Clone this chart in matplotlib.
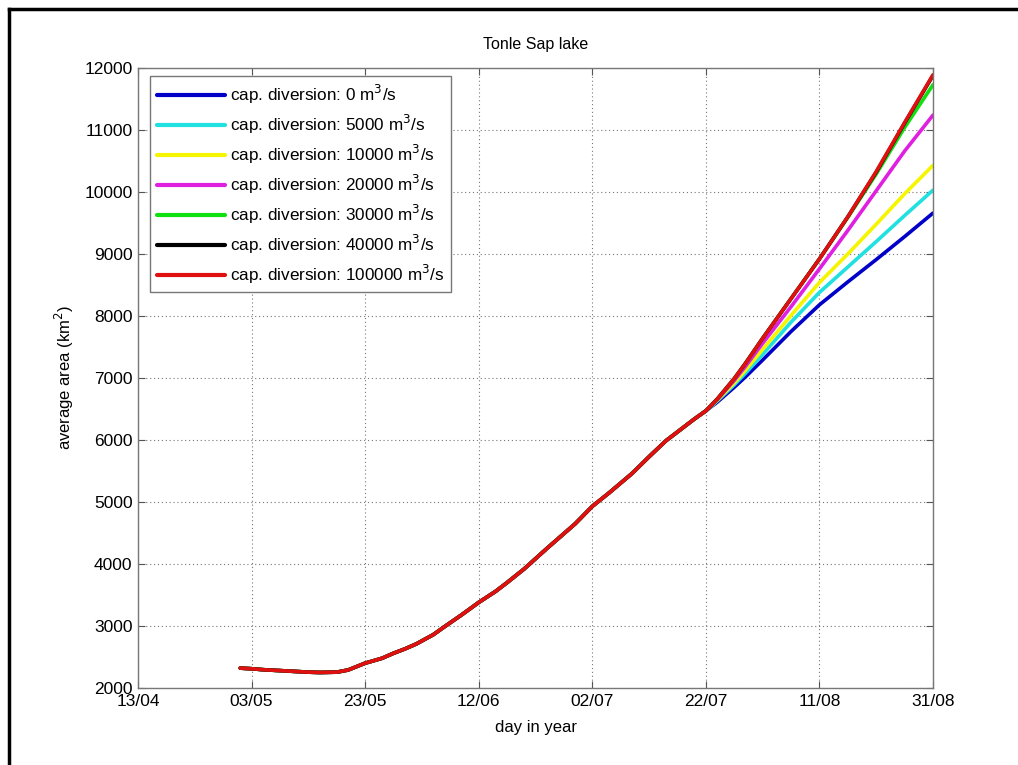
import matplotlib
matplotlib.use("Agg")
import matplotlib.pyplot as plt
from matplotlib.lines import Line2D

# Day-of-year for x ticks (13/04 .. 31/08, every 20 days)
tick_days = [103, 123, 143, 163, 183, 203, 223, 243]
tick_labels = ["13/04", "03/05", "23/05", "12/06", "02/07", "22/07", "11/08", "31/08"]

# Common part (all scenarios identical)
common_days = [121, 123, 125, 128, 130, 133, 135, 138, 140, 143, 146, 148, 150, 152, 155,
               157, 160, 163, 166, 168, 171, 175, 178, 180, 183, 186, 190, 193, 196, 199, 201, 203]
common_vals = [2320, 2310, 2295, 2280, 2270, 2255, 2250, 2255, 2290, 2400, 2480, 2560, 2630, 2710, 2860,
               2990, 3180, 3380, 3560, 3700, 3920, 4250, 4490, 4650, 4930, 5150, 5460, 5730, 5990, 6200, 6340, 6470]

# Diverging part
div_days = [203, 205, 208, 210, 213, 218, 223, 228, 233, 238, 243]
area_0 = [6470, 6610, 6850, 7020, 7290, 7750, 8180, 8550, 8910, 9280, 9660]
area_5000 = [6470, 6630, 6890, 7080, 7380, 7900, 8380, 8790, 9200, 9620, 10030]
area_10000 = [6470, 6640, 6920, 7130, 7460, 8010, 8540, 9000, 9480, 9970, 10430]
area_20000 = [6470, 6650, 6960, 7190, 7560, 8150, 8760, 9380, 10020, 10660, 11240]
area_30000 = [6470, 6660, 6990, 7240, 7640, 8280, 8920, 9590, 10290, 11040, 11730]
area_40000 = [6470, 6660, 6990, 7240, 7640, 8280, 8920, 9600, 10320, 11110, 11880]
area_100000 = [6470, 6660, 6990, 7240, 7640, 8280, 8920, 9600, 10330, 11120, 11890]

series_labels = ["cap. diversion: 0 m$^3$/s", "cap. diversion: 5000 m$^3$/s",
                 "cap. diversion: 10000 m$^3$/s", "cap. diversion: 20000 m$^3$/s",
                 "cap. diversion: 30000 m$^3$/s", "cap. diversion: 40000 m$^3$/s",
                 "cap. diversion: 100000 m$^3$/s"]
series_vals = [area_0, area_5000, area_10000, area_20000, area_30000, area_40000, area_100000]
colors = ["#0000c8", "#20e0e0", "#f5f500", "#e020e0", "#10e010", "#000000", "#e01010"]

plt.rcParams['font.family'] = ['Liberation Sans', 'DejaVu Sans']

fig = plt.figure(figsize=(10.18, 7.65), dpi=100)
ax = fig.add_axes([0.1356, 0.1007, 0.7809, 0.8104])

for lab, vals, c in zip(series_labels, series_vals, colors):
    days = common_days + div_days[1:]
    y = common_vals + vals[1:]
    ax.plot(days, y, color=c, lw=2.6, label=lab, solid_capstyle='round',
            solid_joinstyle='round')

ax.set_xlim(103, 243)
ax.set_ylim(2000, 12000)
ax.set_xticks(tick_days)
ax.set_xticklabels(tick_labels)
ax.set_yticks(range(2000, 12001, 1000))
ax.grid(True, linestyle=(0, (1, 2.5)), color="#777777", linewidth=0.8)
for s in ax.spines.values():
    s.set_color("#777777")
    s.set_linewidth(1.0)
ax.tick_params(direction='in', top=True, right=True, length=5, color="#555555",
               labelsize=12.5, pad=4)
ax.set_title("Tonle Sap lake", fontsize=11.5, pad=14)
ax.set_xlabel("day in year", fontsize=12, labelpad=8)
ax.set_ylabel("average area (km$^2$)", fontsize=12, labelpad=6)

leg = ax.legend(loc='upper left', bbox_to_anchor=(0.015, 0.987), fontsize=12.3,
                handlelength=4.0, handletextpad=0.3, labelspacing=0.40,
                borderpad=0.4, fancybox=False, framealpha=1, edgecolor="#777777",
                borderaxespad=0)
leg.get_frame().set_linewidth(1.0)
for h in leg.get_lines():
    h.set_linewidth(3)

# Outer frame (top and left visible)
fig.add_artist(Line2D([0.0085, 1.0], [1 - 9/765, 1 - 9/765], color='black', lw=2.5,
                      transform=fig.transFigure))
fig.add_artist(Line2D([0.0085, 0.0085], [0.0, 1 - 9/765], color='black', lw=2.5,
                      transform=fig.transFigure))

fig.savefig("out.png", dpi=100, facecolor='white')
